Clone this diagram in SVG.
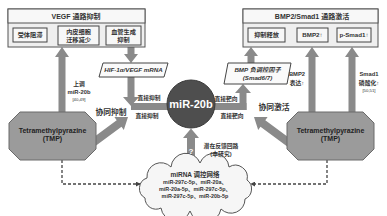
<svg xmlns="http://www.w3.org/2000/svg" width="387" height="216" viewBox="0 0 387 216">
<defs>
<style>
text{font-family:"Liberation Sans","Noto Sans CJK SC",sans-serif;font-weight:bold;fill:#333;text-anchor:middle}
.outer{fill:#efefef;stroke:#555;stroke-width:1}
.hdr{fill:#f8f8f8;stroke:#555;stroke-width:1}
.inner{fill:#f7f7f7;stroke:#444;stroke-width:1}
.big{fill:#8a8a8a}
.oct{fill:#9b9b9b;stroke:#6a6a6a;stroke-width:1}
.para{fill:#fafafa;stroke:#444;stroke-width:1}
.thin{stroke:#444;stroke-width:0.8;fill:none;marker-end:url(#sa)}
.dash{stroke:#444;stroke-width:1.3;fill:none;stroke-dasharray:3,2;marker-end:url(#da)}
.t6{font-size:6.2px}
.ref{font-size:4.3px;font-weight:normal}
.lab{font-size:5.8px}
.syn{font-size:7.8px}
.it{font-style:italic;font-size:6.2px}
.cl{font-size:5.4px}
</style>
<marker id="sa" viewBox="0 0 6 6" refX="5" refY="3" markerWidth="5" markerHeight="5" orient="auto" markerUnits="userSpaceOnUse"><path d="M0,0 L6,3 L0,6 z" fill="#444"/></marker>
<marker id="da" viewBox="0 0 6 6" refX="5" refY="3" markerWidth="5" markerHeight="5" orient="auto" markerUnits="userSpaceOnUse"><path d="M0,0 L6,3 L0,6 z" fill="#444"/></marker>
</defs>
<rect width="387" height="216" fill="#ffffff"/>

<g id="connectors">
  <polygon class="big" points="58.5,113 58.5,57 55,57 62,47 69,57 65.5,57 65.5,113"/>
  <polygon class="big" points="127.5,47 134.5,47 134.5,54 138,54 131,63 124,54 127.5,54"/>
  <polygon class="big" points="127.5,77 134.5,77 134.5,97 139,97 131,106 123,97 127.5,97"/>
  <rect class="big" x="131" y="103" width="38" height="7"/>
  <rect class="big" x="213" y="103" width="33.5" height="7"/>
  <polygon class="big" points="239.5,110 239.5,93 235,93 243,84 251,93 246.5,93 246.5,110"/>
  <polygon class="big" points="247.5,63 247.5,56 244,56 251,47 258,56 254.5,56 254.5,63"/>
  <polygon class="big" points="308.5,113 308.5,57 305,57 312,47 319,57 315.5,57 315.5,113"/>
  <polygon class="big" points="348.5,113 348.5,57 345,57 352,47 359,57 355.5,57 355.5,113"/>
  <polygon class="big" points="92.4,148.2 121.5,126.7 123.8,129.9 128,117 114.4,117.1 116.7,120.3 87.6,141.8"/>
  <polygon class="big" points="289.6,148.2 260.5,126.7 258.2,129.9 254,117 267.6,117.1 265.3,120.3 294.4,141.8"/>
  <polygon class="big" points="187,165 187,138 183,138 191,128.5 199,138 195,138 195,165"/>
  <path class="dash" d="M62,160 V184 H140"/>
  <path class="dash" d="M327,160 V184 H251"/>
  <line class="thin" x1="48" y1="35" x2="57" y2="35"/>
  <line class="thin" x1="100" y1="35" x2="105" y2="35"/>
  <line class="thin" x1="286" y1="35" x2="296" y2="35"/>
  <line class="thin" x1="329" y1="35" x2="336" y2="35"/>
</g>

<g id="vegf-box">
  <rect class="outer" x="8" y="9" width="137" height="38"/>
  <rect class="hdr" x="8" y="9" width="137" height="14"/>
  <text x="76" y="18.7" style="font-size:7px">VEGF 通路抑制</text>
</g>
<g id="receptor">
  <rect class="inner" x="13" y="28" width="34" height="14"/>
  <text class="t6" x="30" y="37.3">受体阻滞</text>
</g>
<g id="migration">
  <rect class="inner" x="58" y="26" width="41" height="19"/>
  <text class="t6" x="78.5" y="34">内皮细胞</text>
  <text class="t6" x="78.5" y="42">迁移减少</text>
</g>
<g id="angio">
  <rect class="inner" x="106" y="26" width="35" height="19"/>
  <text class="t6" x="123.5" y="34">血管生成</text>
  <text class="t6" x="123.5" y="42">抑制</text>
</g>

<g id="bmp-box">
  <rect class="outer" x="243" y="9" width="135" height="38"/>
  <rect class="hdr" x="243" y="9" width="135" height="14"/>
  <text x="312" y="18.7" style="font-size:7px">BMP2/Smad1 通路激活</text>
</g>
<g id="release">
  <rect class="inner" x="248" y="28" width="37" height="14"/>
  <text class="t6" x="266.5" y="37.3">抑制释放</text>
</g>
<g id="bmp2">
  <rect class="inner" x="297" y="28" width="31" height="14"/>
  <text class="t6" x="312.5" y="37.3">BMP2↑</text>
</g>
<g id="psmad">
  <rect class="inner" x="337" y="28" width="34" height="14"/>
  <text class="t6" x="354" y="37.3">p-Smad1↑</text>
</g>

<g id="hif">
  <polygon class="para" points="103,63 168,63 164,77 99,77"/>
  <text class="it" x="133.5" y="72.3">HIF-1α/VEGF mRNA</text>
</g>
<g id="smad67">
  <polygon class="para" points="228,63 291,63 287,84 224,84"/>
  <text class="it" x="257.5" y="71.5">BMP 负调控因子</text>
  <text class="it" x="257.5" y="80">(Smad6/7)</text>
</g>

<g id="mir20b">
  <circle cx="191" cy="104" r="24" fill="#4e4e4e" stroke="#3a3a3a" stroke-width="1"/>
  <text x="191" y="108" style="font-size:11px;fill:#ffffff">miR-20b</text>
</g>

<g id="tmp-left">
  <polygon class="oct" points="20,112 85,112 96,123 96,149 85,160 20,160 9,149 9,123"/>
  <text x="52.5" y="132.5" style="font-size:7px;fill:#222">Tetramethylpyrazine</text>
  <text x="52.5" y="141" style="font-size:7px;fill:#222">(TMP)</text>
</g>
<g id="tmp-right">
  <polygon class="oct" points="298,112 363,112 374,123 374,149 363,160 298,160 287,149 287,123"/>
  <text x="330.5" y="132.5" style="font-size:7px;fill:#222">Tetramethylpyrazine</text>
  <text x="330.5" y="141" style="font-size:7px;fill:#222">(TMP)</text>
</g>

<g id="cloud">
  <path d="M145,198 A11,11 0 0,1 147,178 A14,14 0 0,1 171,167 A15,15 0 0,1 200,163 A15,15 0 0,1 229,167 A12,12 0 0,1 247,180 A11,11 0 0,1 245,199 A14,14 0 0,1 221,209 A16,16 0 0,1 190,211 A15,15 0 0,1 161,208 A11,11 0 0,1 145,198 Z" fill="#f6f6f6" stroke="#555" stroke-width="1"/>
  <text x="195" y="177" style="font-size:6.5px">miRNA 调控网络</text>
  <text class="cl" x="195" y="184">miR-297c-5p、miR-20a、</text>
  <text class="cl" x="195" y="191">miR-20a-5p、miR-297c-5p、</text>
  <text class="cl" x="195" y="198">miR-297c-5p、miR-20b-5p</text>
</g>

<g id="labels">
  <text class="lab" x="79" y="86">上调</text>
  <text class="lab" x="79" y="94">miR-20b</text>
  <text class="ref" x="79" y="100.5">[40,49]</text>
  <text class="syn" x="111" y="115">协同抑制</text>
  <text class="syn" x="274" y="110">协同激活</text>
  <text class="lab" x="149" y="100">直接抑制</text>
  <text class="lab" x="147" y="117.5">直接抑制</text>
  <text class="lab" x="226" y="100.5">直接靶向</text>
  <text class="lab" x="232" y="117.5">直接靶向</text>
  <text class="lab" x="297" y="76">BMP2</text>
  <text class="lab" x="297" y="85">表达↑</text>
  <text class="lab" x="369" y="76">Smad1</text>
  <text class="lab" x="369" y="85">磷酸化↑</text>
  <text class="ref" x="369" y="92">[50,51]</text>
  <text x="191" y="154" style="font-size:8px;fill:#ffffff">?</text>
  <text class="lab" x="221" y="148">潜在反馈回路</text>
  <text class="lab" x="221" y="156">(本研究)</text>
</g>
</svg>
